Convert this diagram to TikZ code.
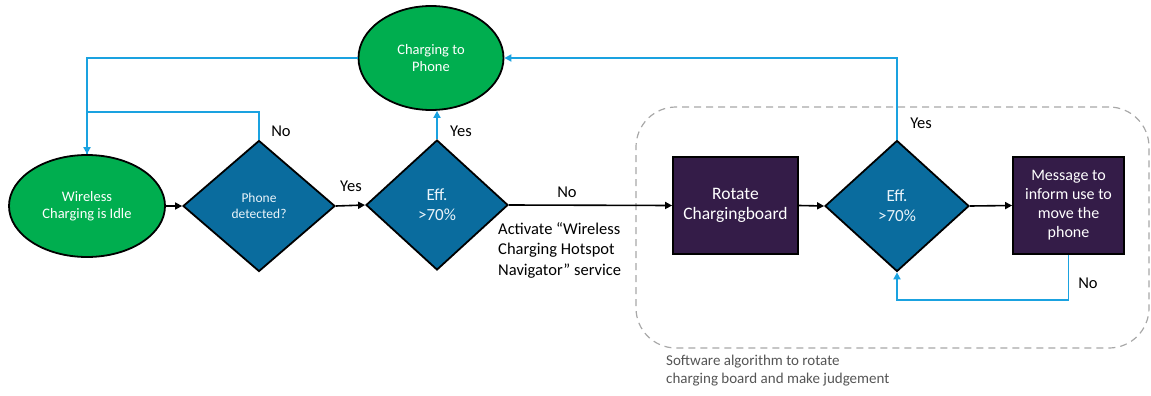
\documentclass[tikz,border=0pt]{standalone}
\usepackage{fontspec}
\setmainfont{Carlito}
\usetikzlibrary{shapes.geometric,arrows.meta}
\definecolor{stategreen}{HTML}{00AE4F}
\definecolor{decblue}{HTML}{0A6C9E}
\definecolor{actpurple}{HTML}{341C48}
\definecolor{flowblue}{HTML}{1AA2E0}
\definecolor{groupgray}{HTML}{A8A8A8}
\definecolor{notegray}{HTML}{555555}
\definecolor{lighttext}{HTML}{EAF4FA}
\tikzset{
  state/.style={ellipse, draw=black, line width=1.8pt, fill=stategreen,
    text=white, inner sep=0pt, align=center, font=\fontsize{14.5}{17}\selectfont},
  decision/.style={diamond, draw=black, line width=1.8pt, fill=decblue,
    text=lighttext, inner sep=0pt, align=center, font=\fontsize{17}{20}\selectfont},
  action/.style={rectangle, draw=black, line width=1.8pt, fill=actpurple,
    text=white, inner sep=0pt, align=center},
  flow/.style={draw=black, line width=1.6pt, -{Triangle[length=7pt,width=7pt]}},
  back/.style={draw=flowblue, line width=1.8pt},
  backarrow/.style={back, -{Triangle[length=7pt,width=7pt]}},
  lbl/.style={font=\fontsize{16.5}{19}\selectfont, text=black, inner sep=0pt},
}
\begin{document}
\begin{tikzpicture}[x=1pt, y=-1pt]
\useasboundingbox (0,0) rectangle (1151,396);

% dashed region around the rotation loop
\node[draw=groupgray, line width=1.2pt, dash pattern=on 7pt off 5pt,
  rounded corners=40pt, minimum width=513pt, minimum height=241pt, inner sep=0pt]
  (swgroup) at (892.5,227.5) {};
\node[anchor=north west, align=left, text=notegray, inner sep=0pt,
  font=\fontsize{15}{18}\selectfont] (swnote) at (666,355)
  {Software algorithm to rotate\\charging board and make judgement};

% states
\node[state, minimum width=156pt, minimum height=102pt] (idle) at (87,206)
  {Wireless\\Charging is Idle};
\node[state, minimum width=145pt, minimum height=104pt] (charge) at (431,58)
  {Charging to\\Phone};

% decisions
\node[decision, minimum width=152pt, minimum height=131pt,
  font=\fontsize{13.5}{16.5}\selectfont] (phone) at (259,206) {Phone\\detected?};
\node[decision, minimum width=142pt, minimum height=130pt] (eff1) at (437,205)
  {Eff.\\>70\%};
\node[decision, minimum width=144pt, minimum height=131pt] (eff2) at (897,206)
  {Eff.\\>70\%};

% actions
\node[action, minimum width=125pt, minimum height=97pt,
  font=\fontsize{17.5}{20}\selectfont] (rotate) at (735.5,205.5)
  {Rotate\\Chargingboard};
\node[action, minimum width=111pt, minimum height=97pt,
  font=\fontsize{16}{19}\selectfont] (msg) at (1068.5,205.5)
  {Message to\\inform use to\\move the\\phone};

% main flow
\draw[flow] (idle.east) -- (phone.west);
\draw[flow] (phone.east) -- (eff1.west);
\draw[flow] (eff1.east) -- (rotate.west);
\draw[flow] (rotate.east) -- (eff2.west);
\draw[flow] (eff2.east) -- (msg.west);

% feedback paths
\draw[backarrow] (charge.west) -| (idle.north);
\draw[back] (phone.north) -- ++(0,-28) -| (idle.north);
\draw[backarrow] (eff1.north) -- (eff1.north |- charge.south);
\draw[backarrow] (eff2.north) |- (charge.east);
\draw[backarrow] (msg.south) -- ++(0,45) -| (eff2.south);

% labels
\node[lbl] (lno1) at (281,131) {No};
\node[lbl] (lyes1) at (351,186) {Yes};
\node[lbl] (lyes2) at (461,131) {Yes};
\node[lbl] (lno2) at (567,192) {No};
\node[lbl, anchor=north west, align=left, font=\fontsize{16.5}{20.5}\selectfont]
  (activate) at (498,222)
  {Activate “Wireless\\Charging Hotspot\\Navigator” service};
\node[lbl] (lyes3) at (921,123) {Yes};
\node[lbl] (lno3) at (1088,283) {No};
\end{tikzpicture}
\end{document}
